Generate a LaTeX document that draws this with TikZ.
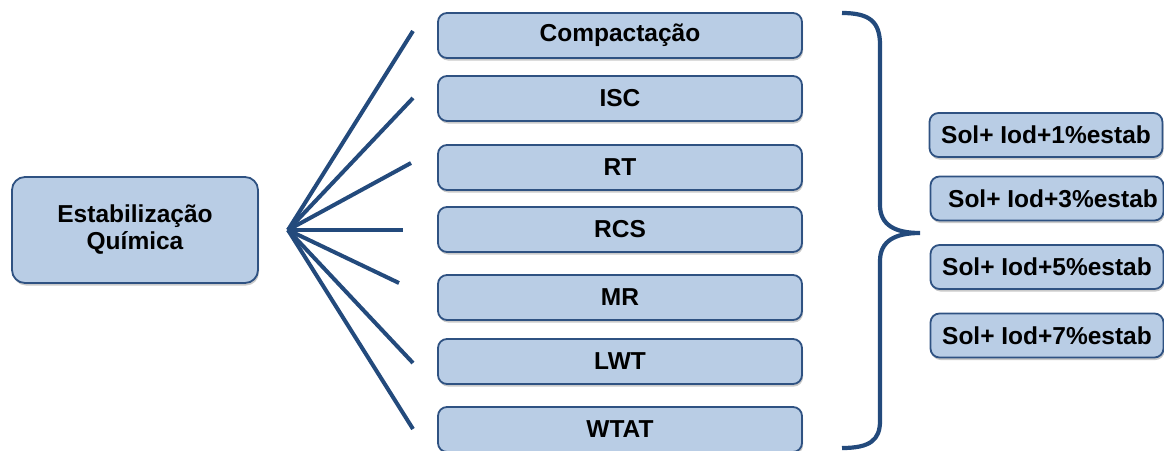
\documentclass[tikz,border=0pt]{standalone}
\usepackage{fontspec}
\setmainfont{Liberation Sans}
\usetikzlibrary{shadows}
\definecolor{boxfill}{HTML}{B9CDE5}
\definecolor{boxline}{HTML}{2F5282}
\definecolor{navy}{HTML}{234A7C}
\tikzset{
  box/.style={draw=boxline, line width=1.8pt, fill=boxfill, rounded corners=9pt,
    font=\fontsize{24.5}{27}\selectfont\bfseries, text=black, inner sep=0pt,
    align=center,
    drop shadow={shadow xshift=1pt, shadow yshift=-2.5pt, opacity=0.35, fill=black!60}},
  midbox/.style={box, minimum width=364pt, minimum height=45pt},
  rbox/.style={box, minimum width=233pt, minimum height=44pt},
  link/.style={draw=navy, line width=4pt},
  bracepath/.style={draw=navy, line width=4.2pt}
}
\begin{document}
\begin{tikzpicture}[x=1pt,y=-1pt]
\useasboundingbox (0,0) rectangle (1164,450);
\clip (0,0) rectangle (1164,450);
% left box
\node[box, minimum width=246pt, minimum height=106pt, rounded corners=13pt] (src) at (135,230) {Estabilização\\Química};
% middle boxes
\node[midbox] (m1) at (620,35.5) {Compactação};
\node[midbox] (m2) at (620,98.5) {ISC};
\node[midbox] (m3) at (620,167.5) {RT};
\node[midbox] (m4) at (620,229.5) {RCS};
\node[midbox] (m5) at (620,297.5) {MR};
\node[midbox] (m6) at (620,361.5) {LWT};
\node[midbox] (m7) at (620,429.5) {WTAT};
% right boxes
\node[rbox] (r1) at (1046,135) {Sol+ Iod+1\%estab};
\node[rbox] (r2) at (1047,198.5) {\hspace*{12pt}Sol+ Iod+3\%estab};
\node[rbox] (r3) at (1047,267) {Sol+ Iod+5\%estab};
\node[rbox] (r4) at (1047,335.5) {Sol+ Iod+7\%estab};
% connectors
\coordinate (hub) at (288,230);
\coordinate (e1) at (413,31);
\coordinate (e2) at (413,98);
\coordinate (e3) at (411,163);
\coordinate (e4) at (403,230);
\coordinate (e5) at (399,283);
\coordinate (e6) at (413,363);
\coordinate (e7) at (413,429);
\foreach \e in {e1,e2,e3,e4,e5,e6,e7} \draw[link] (hub) -- (\e);
% brace
\coordinate (btop) at (842,13);
\coordinate (btip) at (920,233);
\coordinate (bbot) at (842,448);
\draw[bracepath] (btop) .. controls (870,13) and (880,22) .. (880,45) -- (880,205)
  .. controls (880,225) and (895,233) .. (btip)
  .. controls (895,233) and (880,241) .. (880,261) -- (880,421)
  .. controls (880,440) and (870,448) .. (bbot);
\end{tikzpicture}
\end{document}
